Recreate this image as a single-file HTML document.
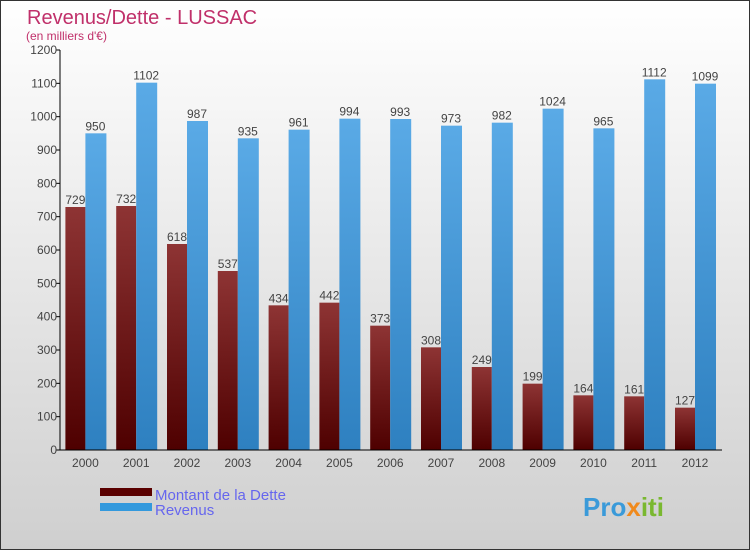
<!DOCTYPE html>
<html><head><meta charset="utf-8"><style>
body{margin:0}
svg text{font-family:"Liberation Sans",sans-serif}
</style></head><body>
<svg id="chart" width="750" height="550" xmlns="http://www.w3.org/2000/svg">
<defs>
<linearGradient id="bg" x1="0" y1="0" x2="0" y2="1"><stop offset="0" stop-color="#ffffff"/><stop offset="1" stop-color="#cfcfcf"/></linearGradient>
<linearGradient id="gd" x1="0" y1="0" x2="0" y2="1"><stop offset="0" stop-color="#8e3434"/><stop offset="1" stop-color="#4e0000"/></linearGradient>
<linearGradient id="gr" x1="0" y1="0" x2="0" y2="1"><stop offset="0" stop-color="#5aaae6"/><stop offset="1" stop-color="#2e80c0"/></linearGradient>
</defs>
<rect x="0.5" y="0.5" width="749" height="549" fill="url(#bg)" stroke="#333"/>
<text x="27" y="24" font-size="20" fill="#c0306a">Revenus/Dette - LUSSAC</text>
<text x="26" y="40" font-size="12" fill="#c0306a">(en milliers d'€)</text>
<g id="bars"></g><g id="axes"></g>
<rect x="100" y="488" width="52" height="8" fill="#5a0000"/>
<rect x="100" y="503" width="52" height="8" fill="#3399dd"/>
<text x="155" y="500" font-size="15" fill="#6666ee">Montant de la Dette</text>
<text x="155" y="515" font-size="15" fill="#6666ee">Revenus</text>
<text x="583" y="516" font-size="26" font-weight="bold" fill="#3a9ad9">Pro<tspan fill="#f08a1c">x</tspan><tspan fill="#7ab830">iti</tspan></text>
</svg>
<script>
const years=["2000","2001","2002","2003","2004","2005","2006","2007","2008","2009","2010","2011","2012"];
const dette=[729,732,618,537,434,442,373,308,249,199,164,161,127];
const revenus=[950,1102,987,935,961,994,993,973,982,1024,965,1112,1099];
const ticks=[0,100,200,300,400,500,600,700,800,900,1000,1100,1200];
const NS="http://www.w3.org/2000/svg";
const X0=60,STEP=50.8,Y0=450,YMAX=1200,H=400;
const y=v=>Y0-v/YMAX*H;
const cx=i=>X0+STEP*(i+0.5);
function mk(t,a,p){const e=document.createElementNS(NS,t);for(const k in a)e.setAttribute(k,a[k]);p.appendChild(e);return e;}
const bars=document.getElementById('bars'),axes=document.getElementById('axes');
ticks.forEach(t=>{
 const k=mk('line',{x1:X0-4,x2:X0,y1:y(t),y2:y(t),stroke:'#000'},axes);
 
 
 const tx=mk('text',{x:X0-3,y:y(t)+4,'font-size':12,'text-anchor':'end',fill:'#444'},axes);tx.textContent=t;
 
 
});
years.forEach((yr,i)=>{
 const c=cx(i);
 const d=mk('rect',{x:c-20,y:y(dette[i]),width:20,height:Y0-y(dette[i]),fill:'url(#gd)'},bars);
 
 
 const r=mk('rect',{x:c,y:y(revenus[i]),width:21,height:Y0-y(revenus[i]),fill:'url(#gr)'},bars);
 
 
 const dl=mk('text',{x:c-10,y:y(dette[i])-3,'font-size':12,'text-anchor':'middle',fill:'#444'},bars);dl.textContent=dette[i];
 
 
 const rl=mk('text',{x:c+10,y:y(revenus[i])-3,'font-size':12,'text-anchor':'middle',fill:'#444'},bars);rl.textContent=revenus[i];
 
 
 const xl=mk('text',{x:c,y:467,'font-size':12,'text-anchor':'middle',fill:'#444'},axes);xl.textContent=yr;
 
 
});
const ya=mk('line',{x1:X0,x2:X0,y1:50,y2:Y0,stroke:'#000'},axes);


const xa=mk('line',{x1:X0,x2:722,y1:Y0,y2:Y0,stroke:'#000'},axes);


</script>
</body></html>
